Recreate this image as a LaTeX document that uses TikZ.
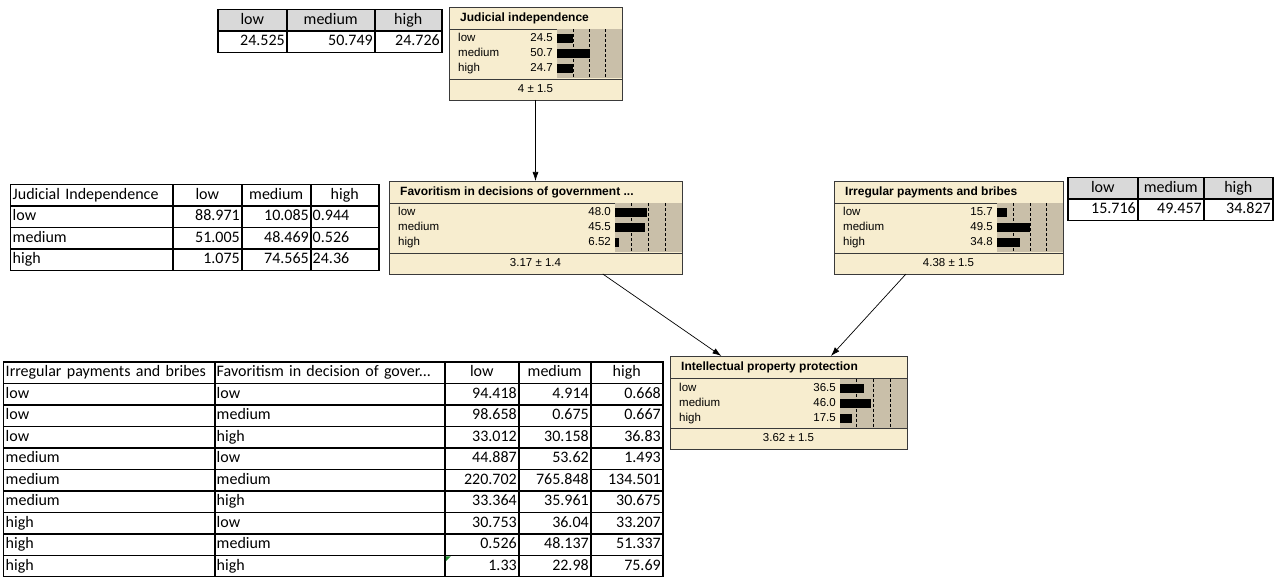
\documentclass[tikz,border=0pt]{standalone}
\usepackage{fontspec}
\setmainfont{Liberation Sans}
\newfontfamily\cellfont{Carlito}
\usetikzlibrary{arrows.meta,matrix}
\definecolor{bnCream}{HTML}{F7EDCF}
\definecolor{bnShade}{HTML}{C9BFA9}
\definecolor{bnEdge}{HTML}{3A3A3A}
\definecolor{tabHead}{HTML}{D9D9D9}
\definecolor{tabMark}{HTML}{1E8C2E}
\tikzset{
  bn box/.style={draw=bnEdge, fill=bnCream, line width=0.9pt, outer sep=0pt, inner sep=0pt},
  bn rule/.style={draw=bnEdge, line width=0.9pt},
  bn title/.style={font=\fontsize{12}{14}\selectfont\bfseries, anchor=west, inner sep=0pt},
  bn text/.style={font=\fontsize{11.5}{13}\selectfont, inner sep=0pt, text height=8.5pt, text depth=2.5pt},
  bn tick/.style={draw=black, dash pattern=on 3pt off 2pt, line width=0.8pt},
  bn arrow/.style={draw=black, line width=0.7pt, -{Latex[length=9pt,width=6pt]}},
  cpt/.style={matrix of nodes, inner sep=0pt, outer sep=0pt, column sep=-1.5pt, row sep=-1.5pt,
    nodes={draw=black, line width=1.5pt, minimum height=21.5pt, inner xsep=2pt, inner ysep=0pt,
      text height=11.5pt, text depth=3.5pt,
      outer sep=0pt, align=right, anchor=center, font=\cellfont\fontsize{16}{18}\selectfont}},
  cpt head/.style={nodes={fill=tabHead, align=center}},
}
% one network node: name, shaded width, title, low, medium, high, mean
\newcommand\bnstates[7]{%
  \draw[bn rule] ([yshift=-22pt]#1.north west) -- ([yshift=-22pt]#1.north east);
  \draw[bn rule] ([yshift=21pt]#1.south west) -- ([yshift=21pt]#1.south east);
  \node[bn title] (#1-title) at ([xshift=11pt, yshift=-11pt]#1.north west) {#3};
  \begin{scope}[shift={(#1.north east)}]
    \fill[bnShade] (-#2,22.5) rectangle (-0.45,71.5);
    \foreach \q in {1,2,3}
      \draw[bn tick] ({-#2+\q*#2/4},22.5) -- ({-#2+\q*#2/4},71.5);
    \foreach \val [count=\rr] in {#4,#5,#6} {
      \fill[black] (-#2,{12.5+15*\rr}) rectangle ({-#2+\val*#2/100},{21.5+15*\rr});
      \node[bn text, anchor=east] (#1-v\rr) at ({-#2-4},{17+15*\rr}) {\val};
    }
  \end{scope}
  \foreach \st [count=\rr] in {low,medium,high}
    \node[bn text, anchor=west] (#1-s\rr) at ([xshift=9pt, yshift={-17pt-15pt*\rr}]#1.north west) {\st};
  \node[bn text] (#1-mean) at ([yshift=10.5pt]#1.south) {#7};
}

\begin{document}
\begin{tikzpicture}[x=1pt, y=-1pt]
  \useasboundingbox (0,0) rectangle (1274,577);
  % network nodes
  \node[bn box, minimum width=173pt, minimum height=93pt] (jud) at (535.5,53.5) {};
  \node[bn box, minimum width=293pt, minimum height=93pt] (fav) at (535.5,227.5) {};
  \node[bn box, minimum width=229pt, minimum height=93pt] (irr) at (948.5,227.5) {};
  \node[bn box, minimum width=237pt, minimum height=93pt] (ipp) at (788.5,402.5) {};
  \bnstates{jud}{65}{Judicial independence}{24.5}{50.7}{24.7}{4 ± 1.5}
  \bnstates{fav}{67}{Favoritism in decisions of government ...}{48.0}{45.5}{6.52}{3.17 ± 1.4}
  \bnstates{irr}{66}{Irregular payments and bribes}{15.7}{49.5}{34.8}{4.38 ± 1.5}
  \bnstates{ipp}{67}{Intellectual property protection}{36.5}{46.0}{17.5}{3.62 ± 1.5}
  \draw[bn arrow] (jud) -- (fav);
  \draw[bn arrow] (fav) -- (ipp);
  \draw[bn arrow] (irr) -- (ipp);

  % probability tables
  \matrix[cpt, anchor=north west, row 1/.style={cpt head},
    column 1/.style={nodes={text width=65pt}},
    column 2/.style={nodes={text width=84pt}},
    column 3/.style={nodes={text width=63pt}}] (judprior) at (217,9) {
    low & medium & high \\
    24.525 & 50.749 & 24.726 \\
  };
  \matrix[cpt, anchor=north west, row 1/.style={cpt head},
    column 1/.style={nodes={text width=66pt}},
    column 2/.style={nodes={text width=62pt}},
    column 3/.style={nodes={text width=65pt}}] (irrprior) at (1067,177) {
    low & medium & high \\
    15.716 & 49.457 & 34.827 \\
  };
  \matrix[cpt, anchor=north west,
    column 1/.style={nodes={text width=158pt, align=left}},
    column 2/.style={nodes={text width=65pt}},
    column 3/.style={nodes={text width=65pt}},
    column 4/.style={nodes={text width=64pt, align=left}}] (favcpt) at (10,184) {
    Judicial Independence & |[align=center]| low & |[align=center]| medium & |[align=center]| high \\
    low & 88.971 & 10.085 & 0.944 \\
    medium & 51.005 & 48.469 & 0.526 \\
    high & 1.075 & 74.565 & 24.36 \\
  };
  \matrix[cpt, anchor=north west,
    column 1/.style={nodes={text width=207pt, align=left}},
    column 2/.style={nodes={text width=226pt, align=left}},
    column 3/.style={nodes={text width=70pt}},
    column 4/.style={nodes={text width=68pt}},
    column 5/.style={nodes={text width=68pt}}] (ippcpt) at (3,361) {
    Irregular payments and bribes & Favoritism in decision of gover... & |[align=center]| low & |[align=center]| medium & |[align=center]| high \\
    low & low & 94.418 & 4.914 & 0.668 \\
    low & medium & 98.658 & 0.675 & 0.667 \\
    low & high & 33.012 & 30.158 & 36.83 \\
    medium & low & 44.887 & 53.62 & 1.493 \\
    medium & medium & 220.702 & 765.848 & 134.501 \\
    medium & high & 33.364 & 35.961 & 30.675 \\
    high & low & 30.753 & 36.04 & 33.207 \\
    high & medium & 0.526 & 48.137 & 51.337 \\
    high & high & 1.33 & 22.98 & 75.69 \\
  };
  \fill[tabMark] ([shift={(1pt,-1pt)}]ippcpt-10-3.north west) -- ++(5,0) -- ++(-5,5) -- cycle;
\end{tikzpicture}
\end{document}
